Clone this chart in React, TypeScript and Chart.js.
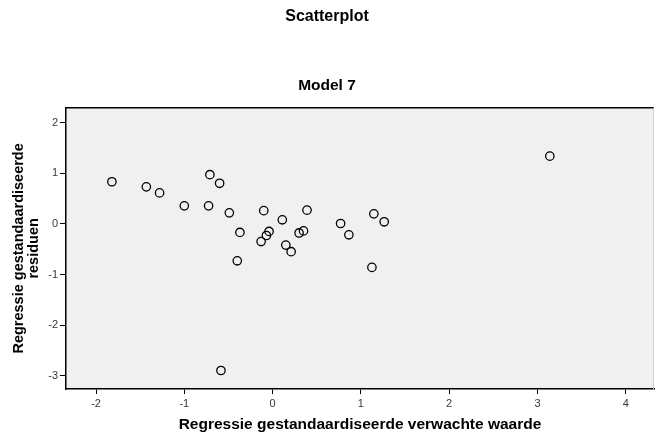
import React, { useEffect, useRef } from "react";
import { Chart, registerables } from "chart.js";

Chart.register(...registerables);

const predicted = [
  -1.82, -1.43, -1.28, -1.0, -0.725, -0.71, -0.6, -0.49, -0.37, -0.4, -0.585,
  -0.1, -0.13, -0.07, -0.04, 0.11, 0.15, 0.21, 0.3, 0.35, 0.39,
  0.77, 0.864, 1.147, 1.264, 1.125, 3.14,
];
const residuals = [
  0.83, 0.73, 0.61, 0.355, 0.355, 0.97, 0.8, 0.217, -0.17, -0.73, -2.895,
  0.26, -0.35, -0.23, -0.15, 0.079, -0.42, -0.55, -0.18, -0.14, 0.27,
  0.006, -0.217, 0.197, 0.04, -0.86, 1.336,
];
const xTicks = [-2, -1, 0, 1, 2, 3, 4];
const yTicks = [-3, -2, -1, 0, 1, 2];
const titleText = "Scatterplot";
const subtitleText = "Model 7";
const xTitle = "Regressie gestandaardiseerde verwachte waarde";
const yTitle = ["Regressie gestandaardiseerde", "residuen"];

const FONT = "'Liberation Sans', Arial, sans-serif";

const plotBg = {
  id: "plotBg",
  beforeDraw(chart: any) {
    const { ctx, chartArea } = chart;
    ctx.save();
    ctx.fillStyle = "#f0f0f0";
    ctx.fillRect(chartArea.left, chartArea.top, chartArea.right - chartArea.left, chartArea.bottom - chartArea.top);
    ctx.restore();
  },
  afterDraw(chart: any) {
    const { ctx, chartArea } = chart;
    ctx.save();
    ctx.strokeStyle = "#000";
    ctx.lineWidth = 1.5;
    ctx.beginPath();
    ctx.moveTo(chartArea.left, chartArea.top);
    ctx.lineTo(chartArea.right, chartArea.top);
    ctx.stroke();
    ctx.strokeStyle = "#d0d0d0";
    ctx.lineWidth = 1;
    ctx.beginPath();
    ctx.moveTo(chartArea.right - 0.5, chartArea.top);
    ctx.lineTo(chartArea.right - 0.5, chartArea.bottom);
    ctx.stroke();
    ctx.restore();
  },
};

export default function App() {
  const ref = useRef<HTMLCanvasElement | null>(null);
  useEffect(() => {
    document.body.style.margin = "0";
    const canvas = ref.current;
    if (!canvas) return;
    const chart = new Chart(canvas, {
      type: "scatter",
      data: {
        datasets: [
          {
            data: predicted.map((x, i) => ({ x, y: residuals[i] })),
            pointStyle: "circle",
            pointRadius: 4.2,
            pointBorderWidth: 1.3,
            pointBorderColor: "#000",
            pointBackgroundColor: "rgba(0,0,0,0)",
          },
        ],
      },
      options: {
        responsive: false,
        animation: false,
        layout: { autoPadding: false, padding: { left: 0, right: 1, top: 0, bottom: 0 } },
        plugins: {
          legend: { display: false },
          tooltip: { enabled: false },
          title: {
            display: true,
            text: titleText,
            color: "#000",
            font: { family: FONT, size: 16, weight: "bold" },
            padding: { top: 7, bottom: 50 },
          },
          subtitle: {
            display: true,
            text: subtitleText,
            color: "#000",
            font: { family: FONT, size: 15.5, weight: "bold" },
            padding: { top: 0, bottom: 13 },
          },
        },
        scales: {
          x: {
            type: "linear",
            min: -2.34,
            max: 4.32,
            afterBuildTicks: (s: any) => {
              s.ticks = xTicks.map((v) => ({ value: v }));
            },
            afterFit: (s: any) => {
              s.height = 49;
            },
            grid: { drawOnChartArea: false, drawTicks: true, tickLength: 5, color: "#000" },
            border: { display: true, color: "#000", width: 1.5 },
            ticks: { color: "#383838", font: { family: FONT, size: 11 }, padding: 3, maxRotation: 0 },
            title: {
              display: true,
              text: xTitle,
              color: "#000",
              font: { family: FONT, size: 15.5, weight: "bold" },
              padding: { top: 6, bottom: 4 },
            },
          },
          y: {
            type: "linear",
            min: -3.26,
            max: 2.29,
            afterBuildTicks: (s: any) => {
              s.ticks = yTicks.map((v) => ({ value: v }));
            },
            afterFit: (s: any) => {
              s.width = 66;
            },
            grid: { drawOnChartArea: false, drawTicks: true, tickLength: 6, color: "#000" },
            border: { display: true, color: "#000", width: 1.5 },
            ticks: { color: "#383838", font: { family: FONT, size: 11 }, padding: 2 },
            title: {
              display: true,
              text: yTitle,
              color: "#000",
              font: { family: FONT, size: 14.5, weight: "bold", lineHeight: 1.0 },
              padding: { top: 12, bottom: 6 },
            },
          },
        },
      },
      plugins: [plotBg],
    });
    return () => chart.destroy();
  }, []);
  return (
    <div style={{ width: 655, height: 438, background: "#fff" }}>
      <canvas ref={ref} width={655} height={438} />
    </div>
  );
}
